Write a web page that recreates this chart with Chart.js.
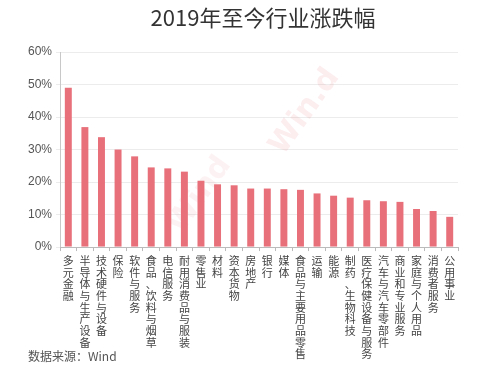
<!DOCTYPE html>
<html>
<head>
<meta charset="utf-8">
<script src="https://cdn.jsdelivr.net/npm/chart.js@4.4.1/dist/chart.umd.min.js"></script>
<style>
    html, body { margin: 0; padding: 0; background: #fff; }
    #wrap { width: 500px; height: 374px; }
</style>
</head>
<body>
<div id="wrap"><canvas id="chart"></canvas></div>
<script>
const industries = [
    "多元金融", "半导体与生产设备", "技术硬件与设备", "保险", "软件与服务",
    "食品、饮料与烟草", "电信服务", "耐用消费品与服装", "零售业", "材料",
    "资本货物", "房地产", "银行", "媒体", "食品与主要用品零售", "运输",
    "能源", "制药、生物科技", "医疗保健设备与服务", "汽车与汽车零部件",
    "商业和专业服务", "家庭与个人用品", "消费者服务", "公用事业"
];
const changePct = [
    49.0, 36.9, 33.8, 30.0, 27.9, 24.5, 24.2, 23.2, 20.4, 19.3, 19.0, 18.0,
    18.0, 17.8, 17.6, 16.5, 15.8, 15.2, 14.4, 14.1, 13.9, 11.7, 11.1, 9.3
];
const yTicks = [0, 10, 20, 30, 40, 50, 60];
const chartTitle = "2019年至今行业涨跌幅";
const sourceNote = "数据来源：Wind";

const cjk = "'Noto Sans CJK SC', 'Noto Sans', sans-serif";

// title, faint "Wind" watermark behind the bars, source note under the y axis
const decorations = {
    id: "decorations",
    beforeDatasetsDraw(chart) {
        const ctx = chart.ctx;
        const marks = [
            { text: "Win.d", x: 305, y: 112, alpha: 0.12 },
            { text: "Wind", x: 200, y: 195, alpha: 0.09 }
        ];
        marks.forEach((m) => {
            ctx.save();
            ctx.fillStyle = `rgba(232, 111, 122, ${m.alpha})`;
            ctx.font = "bold 30px 'DejaVu Sans', sans-serif";
            ctx.textAlign = "center";
            ctx.textBaseline = "middle";
            ctx.translate(m.x, m.y);
            ctx.rotate(-0.95);
            ctx.fillText(m.text, 0, 0);
            ctx.restore();
        });
    },
    afterDraw(chart) {
        const ctx = chart.ctx;
        ctx.save();
        ctx.fillStyle = "#333";
        ctx.font = "22px " + cjk;
        ctx.textAlign = "center";
        ctx.textBaseline = "middle";
        ctx.fillText(chartTitle, 263, 18);
        ctx.fillStyle = "#555";
        ctx.font = "12px " + cjk;
        ctx.textAlign = "left";
        ctx.fillText(sourceNote, 28, 356);
        ctx.restore();
    }
};

new Chart(document.getElementById("chart"), {
    type: "bar",
    data: {
        labels: industries.map((name) => Array.from(name)),
        datasets: [
            {
                data: changePct,
                backgroundColor: "#e8707a",
                barPercentage: 0.42,
                categoryPercentage: 1.0
            }
        ]
    },
    options: {
        responsive: true,
        maintainAspectRatio: false,
        animation: false,
        layout: {
            padding: { left: 24, right: 42, top: 52, bottom: 10 }
        },
        scales: {
            y: {
                min: 0,
                max: 60,
                afterBuildTicks: (axis) => {
                    axis.ticks = yTicks.map((v) => ({ value: v }));
                },
                ticks: {
                    callback: (v) => v + "%",
                    color: "#555",
                    font: { family: "'Liberation Sans', Arial, sans-serif", size: 12 },
                    padding: 4
                },
                grid: {
                    color: "#ececec",
                    tickLength: 4
                },
                border: { color: "#c8c8c8" }
            },
            x: {
                ticks: {
                    autoSkip: false,
                    maxRotation: 0,
                    minRotation: 0,
                    color: "#444",
                    font: { family: cjk, size: 11, lineHeight: 1.06 },
                    padding: 4
                },
                grid: {
                    display: true,
                    drawOnChartArea: false,
                    tickLength: 4,
                    color: "#bbb"
                },
                border: { color: "#bbb" }
            }
        },
        plugins: {
            legend: { display: false },
            tooltip: { enabled: false }
        }
    },
    plugins: [decorations]
});
</script>
</body>
</html>
